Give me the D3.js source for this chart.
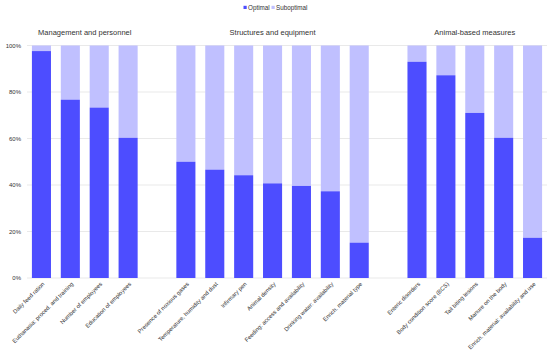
<!DOCTYPE html>
<html>
<head>
<meta charset="utf-8">
<script src="https://cdn.jsdelivr.net/npm/d3@7"></script>
<style>
body{margin:0;background:#fff;}
text{font-family:"Liberation Sans",Arial,sans-serif;fill:#333;}
</style>
</head>
<body>
<svg id="chart" width="550" height="351"></svg>
<script>
const groups = ["Management and personnel","Structures and equipment","Animal-based measures"];
const categories = [
  ["Daily feed ration","Euthanasia: proced. and training","Number of employees","Education of employees"],
  ["Presence of noxious gases","Temperature, humidity and dust","Infirmary pen","Animal density","Feeding: access and availability","Drinking water: availability","Enrich. material type"],
  ["Enteric disorders","Body condition score (BCS)","Tail biting lesions","Manure on the body","Enrich. material: availability and use"]
];
const optimal = [
  [97.6, 76.7, 73.3, 60.3],
  [50.0, 46.6, 44.2, 40.7, 39.6, 37.3, 15.2],
  [93.0, 87.2, 71.0, 60.3, 17.3]
];
const seriesNames = ["Optimal","Suboptimal"];
const colors = ["#4d4dff","#c0c0ff"];
const yTicks = [0,20,40,60,80,100];

// build slot list with a blank slot between groups
const slots = [];
const rows = [];
categories.forEach((cats,gi)=>{
  if(gi>0) slots.push("__gap"+gi);
  cats.forEach((c,ci)=>{ slots.push(c); rows.push({group:gi,cat:c,opt:optimal[gi][ci]}); });
});

const svg = d3.select("#chart");
const x = d3.scaleBand().domain(slots).range([27,547]).paddingInner(0.34).paddingOuter(0.17);
const y = d3.scaleLinear().domain([0,100]).range([278,45.5]);

// gridlines
svg.append("g").selectAll("line").data(yTicks).join("line")
  .attr("x1",27).attr("x2",547)
  .attr("y1",d=>y(d)).attr("y2",d=>y(d))
  .attr("stroke","#e3e3e3").attr("stroke-width",0.8);

// y labels
svg.append("g").selectAll("text").data(yTicks).join("text")
  .attr("x",21).attr("y",d=>y(d)).attr("dy","0.35em")
  .attr("text-anchor","end").style("font-size","6px")
  .text(d=>d+"%");

// bars
const bars = svg.append("g");
bars.selectAll("rect.sub").data(rows).join("rect").attr("class","sub")
  .attr("x",d=>x(d.cat)).attr("width",x.bandwidth())
  .attr("y",y(100)).attr("height",d=>y(d.opt)-y(100))
  .attr("fill",colors[1]);
bars.selectAll("rect.opt").data(rows).join("rect").attr("class","opt")
  .attr("x",d=>x(d.cat)).attr("width",x.bandwidth())
  .attr("y",d=>y(d.opt)).attr("height",d=>y(0)-y(d.opt))
  .attr("fill",colors[0]);

// x labels
svg.append("g").selectAll("text").data(rows).join("text")
  .attr("transform",d=>`translate(${x(d.cat)+x.bandwidth()/2+2},${y(0)+5}) rotate(-45)`)
  .attr("text-anchor","end").attr("dy","0.35em")
  .style("font-size","5.8px")
  .text(d=>d.cat);

// group titles
svg.append("g").selectAll("text").data(groups).join("text")
  .attr("x",(g,gi)=>{const c=categories[gi];return (x(c[0])+x(c[c.length-1])+x.bandwidth())/2;})
  .attr("y",35).attr("text-anchor","middle").style("font-size","7.5px")
  .text(d=>d);

// legend
const leg = svg.append("g");
const legX = [243.5, 271.5];
seriesNames.forEach((s,i)=>{
  leg.append("rect").attr("x",legX[i]).attr("y",5.8).attr("width",3.2).attr("height",3.2).attr("fill",colors[i]);
  leg.append("text").attr("x",legX[i]+4.5).attr("y",7.4).attr("dy","0.35em").style("font-size","6.3px").text(s);
});
</script>
</body>
</html>
